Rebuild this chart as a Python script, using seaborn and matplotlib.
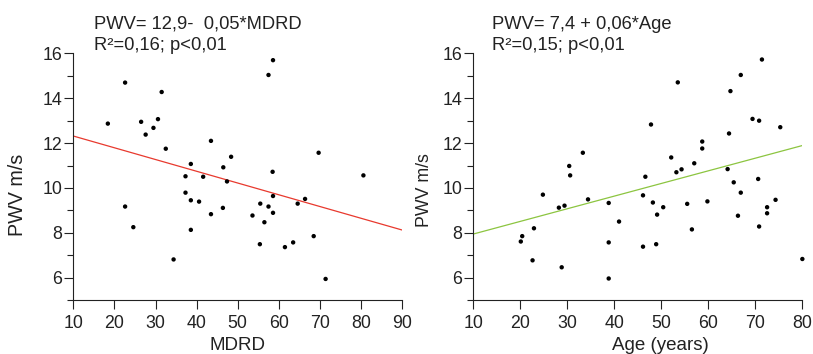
import numpy as np
import pandas as pd
import matplotlib
matplotlib.use("Agg")
import matplotlib.pyplot as plt
import seaborn as sns
from matplotlib.ticker import MultipleLocator

# values
mdrd = [18.4, 22.6, 26.5, 27.6, 29.5, 30.6, 31.5, 32.5, 38.6, 37.3, 41.6, 43.5, 46.5, 48.4,
        57.5, 58.6, 58.5, 69.7, 80.6, 47.4, 22.6, 24.6, 37.3, 38.6, 40.6, 43.5, 46.4, 38.6,
        34.4, 53.6, 55.5, 57.5, 58.6, 58.6, 56.5, 55.4, 61.5, 63.5, 64.6, 66.4, 68.5, 71.4]
pwv_mdrd = [12.87, 14.70, 12.95, 12.38, 12.68, 13.07, 14.28, 11.75, 11.07, 10.52, 10.50, 12.10,
            10.92, 11.39, 15.04, 15.70, 10.72, 11.57, 10.56, 10.29, 9.17, 8.25, 9.79, 9.45, 9.39,
            8.83, 9.11, 8.13, 6.81, 8.77, 9.30, 9.17, 9.64, 8.89, 8.47, 7.49, 7.36, 7.57, 9.30,
            9.51, 7.85, 5.94]

age = [30.4, 30.6, 33.3, 47.8, 46.6, 52.1, 53.5, 53.2, 54.3, 57.0, 58.7, 58.7, 64.1, 64.4,
       64.7, 66.9, 69.4, 70.8, 71.4, 75.3, 70.6, 24.8, 34.4, 28.2, 29.4, 38.8, 41.0, 46.1,
       48.2, 49.1, 50.4, 55.5, 56.5, 59.8, 65.4, 66.9, 66.3, 72.5, 72.5, 74.3, 70.8, 20.1,
       20.4, 22.9, 22.6, 28.8, 38.8, 38.8, 46.1, 48.9, 80.0]
pwv_age = [10.98, 10.56, 11.57, 12.83, 10.50, 11.36, 14.71, 10.70, 10.83, 11.10, 12.07, 11.76,
           10.84, 12.43, 14.32, 15.04, 13.08, 13.00, 15.73, 12.71, 10.40, 9.70, 9.49, 9.12,
           9.21, 9.33, 8.50, 9.67, 9.35, 8.81, 9.14, 9.29, 8.15, 9.40, 10.25, 9.79, 8.76, 9.14,
           8.87, 9.47, 8.28, 7.61, 7.85, 8.20, 6.77, 6.46, 7.57, 5.96, 7.38, 7.49, 6.83]

# fitted lines (intercept, slope) as drawn in the figure
fit_mdrd = (12.84, -0.0524)
fit_age = (7.38, 0.0564)

df_mdrd = pd.DataFrame({"MDRD": mdrd, "PWV": pwv_mdrd})
df_age = pd.DataFrame({"Age": age, "PWV": pwv_age})

sns.set_style("ticks")
plt.rcParams["font.family"] = ["Liberation Sans", "DejaVu Sans"]
plt.rcParams["axes.linewidth"] = 0.8

fig = plt.figure(figsize=(8.13, 3.54), dpi=100)
ax1 = fig.add_axes([0.0902, 0.1525, 0.4043, 0.6965])
ax2 = fig.add_axes([0.5822, 0.1525, 0.4047, 0.6965])

ink = "#222222"
panels = [
    (ax1, df_mdrd, "MDRD", fit_mdrd, "#e8392e", (10, 90), "MDRD",
     ["PWV= 12,9-  0,05*MDRD", "R²=0,16; p<0,01"], 14.2, -0.141, 0.425, 0.5, 0.063),
    (ax2, df_age, "Age", fit_age, "#8cc540", (10, 80), "Age (years)",
     ["PWV= 7,4 + 0,06*Age", "R²=0,15; p<0,01"], 12.8, -0.122, 0.445, 0.567, 0.058),
]

for (ax, d, xcol, fit, col, xlim, xlabel, eq, ylab_fs, ylab_x, ylab_y,
     xlab_x, eq_x) in panels:
    lx = np.array(xlim, dtype=float)
    ax.plot(lx, fit[0] + fit[1] * lx, color=col, lw=0.9, zorder=1)
    sns.scatterplot(data=d, x=xcol, y="PWV", ax=ax, color="black", s=10,
                    edgecolor="none", zorder=2, clip_on=False)
    ax.set_xlim(*xlim)
    ax.set_ylim(5, 16)
    ax.xaxis.set_major_locator(MultipleLocator(10))
    ax.yaxis.set_major_locator(MultipleLocator(2))
    ax.yaxis.set_minor_locator(MultipleLocator(1))
    ax.tick_params(axis="both", which="major", length=6.5, width=0.8, labelsize=12.8,
                   colors=ink)
    ax.tick_params(axis="x", which="major", pad=4)
    ax.tick_params(axis="y", which="major", pad=1.5)
    ax.tick_params(axis="y", which="minor", length=4.3, width=0.8, colors=ink)
    ax.set_xlabel(xlabel, fontsize=13.5, color=ink)
    ax.set_ylabel("PWV m/s", fontsize=ylab_fs, color=ink)
    ax.yaxis.set_label_coords(ylab_x, ylab_y)
    ax.xaxis.set_label_coords(xlab_x, -0.152)
    for s in ["left", "bottom"]:
        ax.spines[s].set_color(ink)
    sns.despine(ax=ax)
    ax.text(eq_x, 1.100, eq[0], transform=ax.transAxes, fontsize=13.2, color=ink,
            va="baseline", ha="left")
    ax.text(eq_x, 1.012, eq[1], transform=ax.transAxes, fontsize=13.2, color=ink,
            va="baseline", ha="left")

fig.savefig("out.png", dpi=100)
plt.close(fig)
